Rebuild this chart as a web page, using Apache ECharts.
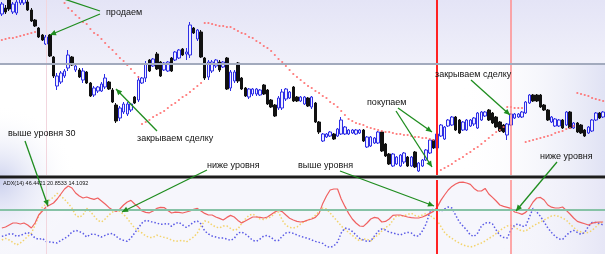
<!DOCTYPE html>
<html><head><meta charset="utf-8">
<script src="https://cdn.jsdelivr.net/npm/echarts@6/dist/echarts.min.js"></script>
<style>html,body{margin:0;padding:0;background:#fff}#c{width:605px;height:254px}</style>
</head><body><div id="c"></div>
<script>
// ---- price candles (value units) ----
const open  = [161,167,177,163,162,172,172,173,165,155,147,140,131,140,118,89,93,99,107,118,105,105,95,103,92,80,84,84,88,93,85,70,57,63,61,65,78,75,92,97,115,109,121,113,105,104,117,115,117,126,121,120,147,136,143,117,
98,104,109,113,108,117,87,94,112,97,87,78,81,81,80,90,85,75,70,67,67,76,77,88,78,74,71,77,68,72,53,34,38,39,41,39,41,41,41,42,41,42,45,28,29,32,32,43,31,21,9,11,9,
13,18,9,23,4,9,15,22,35,27,39,36,49,50,58,55,45,45,49,51,47,55,59,65,62,58,53,50,40,50,57,58,58,62,72,80,80,80,70,65,53,49,49,55,50,63,47,52,50,45,42,44,55,62,58];
const close = [171,163,166,171,173,179,177,165,154,149,138,135,138,119,99,99,102,104,120,110,109,98,104,92,79,87,88,91,97,86,73,54,67,71,71,71,72,95,97,111,104,116,106,99,112,113,104,123,125,120,123,150,142,145,118,97,
113,113,115,105,113,86,103,103,94,86,79,86,86,86,85,81,71,68,59,77,83,86,83,74,74,78,78,69,78,53,43,41,41,43,36,46,55,48,45,45,45,45,34,38,38,37,43,24,19,11,21,18,20,
22,9,18,8,12,15,25,35,27,41,50,48,55,58,45,42,53,55,55,57,62,63,63,55,52,48,44,43,51,61,61,61,63,73,80,74,74,68,65,55,58,56,55,47,63,47,52,43,42,39,48,55,62,57,63];
const low   = [159,161,164,161,160,170,170,164,153,148,137,134,130,118,97,85,91,97,104,109,103,97,92,91,78,78,82,83,86,85,72,52,54,61,59,63,71,73,91,93,103,108,105,98,104,103,103,114,116,119,115,117,141,134,117,95,
95,102,107,103,107,85,84,92,92,85,78,76,79,79,79,80,70,67,58,65,65,74,76,73,73,73,70,68,66,52,41,33,37,38,35,38,40,40,40,41,40,41,33,27,28,31,31,23,18,10,8,10,8,
11,8,8,7,3,8,14,21,26,26,38,35,48,49,44,41,44,44,48,49,46,54,58,54,51,47,43,42,35,49,56,57,57,61,71,73,73,67,64,54,52,48,48,46,49,46,46,42,41,38,41,43,54,56,57];
const high  = [173,170,181,173,179,183,180,175,167,156,148,141,140,141,119,102,104,106,125,119,112,107,107,104,93,89,89,93,101,94,87,72,69,73,73,72,79,99,98,114,116,117,123,114,113,114,118,124,126,127,127,153,148,146,145,118,
115,115,116,115,114,118,105,105,113,98,88,87,87,87,86,91,86,76,71,79,86,87,84,89,79,79,79,78,79,73,54,42,42,44,42,47,58,49,46,46,46,46,46,39,39,38,44,44,32,22,22,19,21,
23,19,19,24,13,16,26,36,36,42,51,49,56,59,59,56,54,56,56,58,63,64,64,66,63,59,54,51,52,62,62,62,64,74,81,81,81,81,71,66,59,57,56,56,64,64,53,53,51,46,49,56,63,63,64];
// ---- parabolic SAR (null = no dot) ----
const sar = [135,136,137,137,138,139,140,141,142,143,
200,196,192,188,184,180,
176,172,167,164,160,157,153,151,146,142,140,136,132,128,125,121,117,114,110,106,102,98,
51,53,55,58,60,62,64,67,70,72,75,78,80,83,86,89,92,
152,152,151,150,149,149,148,148,146,144,142,141,138,137,134,132,129,127,124,120,116,113,109,105,101,98,95,92,89,87,84,82,79,77,73,71,68,64,60,56,54,52,51,50,48,47,46,45,44,43,43,42,41,41,40,40,39,38,38,37,37,36,35,
3,5,7,9,11,14,16,18,21,23,26,28,31,34,37,40,43,45,48,
68,68,67,67,67,
33,34,35,36,37,38,39,40,42,43,44,46,47,49,
82,81,80,79,77,76,75,74];
// ---- ADX panel ----
const adxRed = [21,21.5,22.5,23.5,23.5,23,23.5,22.5,21,23.5,27.5,29.5,31.5,32.5,33.5,35.5,38,40.5,42,41,
38.5,37,36,36.5,35.8,35.3,36,34.5,33,31.3,30,29.3,30.5,32.5,34,34.8,33,31.5,29.5,28.8,
28.6,29.5,30.8,31.3,31.2,29.8,28.5,28.9,28.8,28.5,29,29.5,30.3,30.8,29.5,28.3,27.5,27.5,26.5,25.8,
25,26.3,27.3,26.5,24.8,23.5,24.5,25.5,26.5,26.5,26.3,26,26.5,27.8,29,29.9,29.2,27.5,25.9,25,
24.3,24,24.3,25,25.5,26.3,28.3,33.3,37,40,40.5,40.5,35.5,31.8,28.3,25.5,23.5,22,21.8,23.5,
25.5,26.3,25.9,24,24.3,25.5,27.3,27.5,27.5,27,26.5,26.2,26,26,26.5,27.3,28.3,29.3,31.3,34.8,
37.5,40,41.8,43,43.8,43.9,43.5,42.8,40.8,39.5,39.5,40.8,38,36.3,34.5,32.5,31.8,31.3,30.8,29,
28.5,27.8,28.8,31,34,36,36.3,35,32.5,31.4,31,31,31.5,29.8,28,26,24.3,23.7,23.1,22.5,23.4,23.8,24,24];
const diYellow = [15,15.8,15,13.8,12.5,13.5,15,16.8,18.3,22.5,27,31.5,33,35,36.5,38.3,37,35.3,33.3,31,
27.5,26.3,27.5,30.8,29.3,27,24.8,24,25.5,27.5,29,29.8,29.3,27.8,25.8,23.3,21,19.5,18.5,17,
16.3,16.3,17.4,16.8,16.3,15.8,15,14.3,14.5,14.8,14,15.3,16.5,18.5,22,24.5,24,22.5,21.5,21,
22,22,20.8,19.8,20.5,23.3,25.5,27.3,28,26.8,25.5,25.3,26,26.5,28.5,29,25,22.3,21.3,21,
21.5,23,24.3,25,25.8,27.3,29.3,31,30.5,28.5,26.3,24.3,22,20.3,18.8,17.3,15.8,14.5,15.5,15.3,
14.5,16.3,17.5,19.5,21.3,22.3,24.8,27.3,27,27,27.8,28.4,27.3,26.8,27.5,28.3,27.3,26,24.8,21.8,
18.8,17,15.8,14.5,13.5,12.5,12,11.5,12,12.8,13.5,14.5,15.8,16.8,18.3,19.8,21,22,22.3,21.5,
20.3,19.5,19.5,20.8,22,23,24,25,26,27,27.3,26.8,26,25,23,21.3,19.8,19,18.5,18.8,19.8,21.5,23.3,24];
const diBlue = [16.8,17.3,18,18,16.8,17.3,18,18.8,17.8,16,15.3,15.8,14.3,14,13.8,13.5,14.8,15.8,17,19,
19.8,19.3,18.3,16.5,17.8,18,17.3,16.5,17.3,18,18.3,16.8,15.5,14.8,14.3,16,18.5,21,23.5,24.8,
24.5,23.8,23.5,22.8,23,23.3,21.8,23.3,23.8,22.5,21.3,22.5,24,24.5,23,19.5,18,17,16.5,16,
16,15.5,14.8,15.8,18.5,19,18,16.5,14.8,14.3,15.5,17,17.3,16.3,14.8,14.8,16.8,18.5,18.8,18.3,
17.5,16.8,16.3,15.8,15,14.3,13.8,13.3,11.8,11.3,12,14,18.5,21,20.5,19.3,17.5,15.8,15,14.3,
14.5,17,19.3,20.5,20,19,18.5,18,17.5,18.3,18.8,18.5,17,17,19.5,23,28.8,30.5,30.3,29.3,
30.5,31.5,31,27.5,24,22,20,17.5,16.8,18.5,22,23.5,23.8,23,20,17.3,16.3,16,20,22.5,
23,21.8,22,26.5,30.8,29,26.8,24,21,18.8,16.8,15.5,15.3,17.3,19,19.8,18.8,17.8,18.8,21.8,23.8,23.8,23.3,22.5];
const adxLevel = 30;
const priceGuide = 111;
const verticalMarks = ['12', '118', '138'];
const adxLabel = 'ADX(14) 46.4421 20.8533 14.1092';

const categories = open.map((_, i) => String(i));
const candleData = open.map((o, i) => [o, close[i], low[i], high[i]]);
const sarData = sar.map((v, i) => v == null ? null : [i, v]).filter(Boolean);

const vStyles = [
  {color: '#f2d6de', width: 1},
  {color: '#ff2222', width: 2},
  {color: '#ff8c8c', width: 1.5}
];
const vLines = verticalMarks.map((c, k) => ({xAxis: c, lineStyle: Object.assign({type: 'solid'}, vStyles[k])}));

const GREEN = '#1f8d1f';
function arrow(x1, y1, x2, y2, head) {
  const els = [{type: 'line', z: 100, silent: true, shape: {x1, y1, x2, y2}, style: {stroke: GREEN, lineWidth: 1.3}}];
  if (head) {
    const a = Math.atan2(y2 - y1, x2 - x1), L = 6, W = 2.8;
    const bx = x2 - L * Math.cos(a), by = y2 - L * Math.sin(a);
    const px = -Math.sin(a) * W, py = Math.cos(a) * W;
    els.push({type: 'polygon', z: 100, silent: true, shape: {points: [[x2, y2], [bx + px, by + py], [bx - px, by - py]]}, style: {fill: GREEN}});
  }
  return els;
}
function label(text, x, y, size) {
  return {type: 'text', z: 101, silent: true, x: x, y: y,
    style: {text: text, fill: '#111', fontSize: size || 9, fontFamily: 'Liberation Sans, Arial, sans-serif', verticalAlign: 'middle', align: 'left'}};
}
function rect(x, y, w, h, fill, z) {
  return {type: 'rect', z: z == null ? -10 : z, silent: true, shape: {x, y, width: w, height: h}, style: {fill}};
}
const lg = (x0, y0, x1, y1, c0, c1) => new echarts.graphic.LinearGradient(x0, y0, x1, y1, [{offset: 0, color: c0}, {offset: 1, color: c1}]);
const rg = (cx, cy, r, c0, c1) => new echarts.graphic.RadialGradient(cx, cy, r, [{offset: 0, color: c0}, {offset: 1, color: c1}]);

const graphics = [
  rect(0, 0, 605, 64, lg(0, 0, 0, 1, '#e4e4f6', '#f0f0fa')),
  rect(460, 64, 145, 113, lg(0, 0, 1, 0, 'rgba(255,255,255,0)', 'rgba(224,226,244,1)')),
  rect(0, 179, 605, 75, '#f6f6fc'),
  rect(500, 179, 105, 75, lg(0, 0, 1, 0, 'rgba(246,246,252,0)', 'rgba(230,230,246,1)')),
  rect(0, 64, 90, 190, rg(0, 0.62, 0.85, 'rgba(204,209,238,1)', 'rgba(255,255,255,0)')),
  rect(0, 175.5, 605, 3, '#1c1c1c', 60),
  label(adxLabel, 3, 183, 5.5),
  label('продаем', 106, 13),
  label('закрываем сделку', 137, 139),
  label('выше уровня 30', 8, 134),
  label('ниже уровня', 207, 166),
  label('выше уровня', 298, 166),
  label('покупаем', 367, 103),
  label('закрываем сделку', 435, 75),
  label('ниже уровня', 540, 157),
  ...arrow(100, 11, 61, -2, false),
  ...arrow(100, 14, 50, 35, true),
  ...arrow(157, 131, 116, 89, true),
  ...arrow(25, 141, 48, 206, true),
  ...arrow(207, 170, 122, 212, true),
  ...arrow(340, 171, 434, 206, true),
  ...arrow(398, 108, 432, 132, true),
  ...arrow(396, 111, 432, 167, true),
  ...arrow(471, 80, 510, 115, true),
  ...arrow(557, 162, 516, 211, true)
];

const chart = echarts.init(document.getElementById('c'), null, {renderer: 'canvas'});
chart.setOption({
  animation: false,
  backgroundColor: '#ffffff',
  grid: [
    {left: 0, right: 0, top: 0, height: 175},
    {left: 0, right: 0, top: 180, height: 74}
  ],
  xAxis: [
    {type: 'category', data: categories, gridIndex: 0, boundaryGap: true, show: false},
    {type: 'category', data: categories, gridIndex: 1, boundaryGap: true, show: false}
  ],
  yAxis: [
    {type: 'value', gridIndex: 0, min: 0, max: 175, show: false, splitLine: {show: false}},
    {type: 'value', gridIndex: 1, min: 8, max: 45, show: false, splitLine: {show: false}}
  ],
  series: [
    {type: 'candlestick', xAxisIndex: 0, yAxisIndex: 0, data: candleData, barWidth: 3, clip: true,
      itemStyle: {color: '#eeeeff', color0: '#111111', borderColor: '#2e2ee6', borderColor0: '#111111', borderWidth: 1},
      markLine: {silent: true, symbol: 'none', label: {show: false}, animation: false,
        data: [...vLines, {yAxis: priceGuide, lineStyle: {color: '#a2aabd', width: 2, type: 'solid'}}]}},
    {type: 'scatter', xAxisIndex: 0, yAxisIndex: 0, data: sarData, symbolSize: 2.2, clip: true,
      itemStyle: {color: '#ff6a6a', opacity: 0.9}},
    {type: 'line', xAxisIndex: 1, yAxisIndex: 1, data: diYellow, symbol: 'none', smooth: false,
      lineStyle: {color: '#f3d36b', width: 1.5, type: [1.5, 2]}},
    {type: 'line', xAxisIndex: 1, yAxisIndex: 1, data: diBlue, symbol: 'none',
      lineStyle: {color: '#5a5ae6', width: 1.5, type: [1.5, 2]}},
    {type: 'line', xAxisIndex: 1, yAxisIndex: 1, data: adxRed, symbol: 'none',
      lineStyle: {color: '#f06060', width: 1.2},
      markLine: {silent: true, symbol: 'none', label: {show: false}, animation: false,
        data: [...vLines, {yAxis: adxLevel, lineStyle: {color: '#86c2a6', width: 2, type: 'solid'}}]}}
  ],
  graphic: {elements: graphics}
});
</script>
</body></html>
